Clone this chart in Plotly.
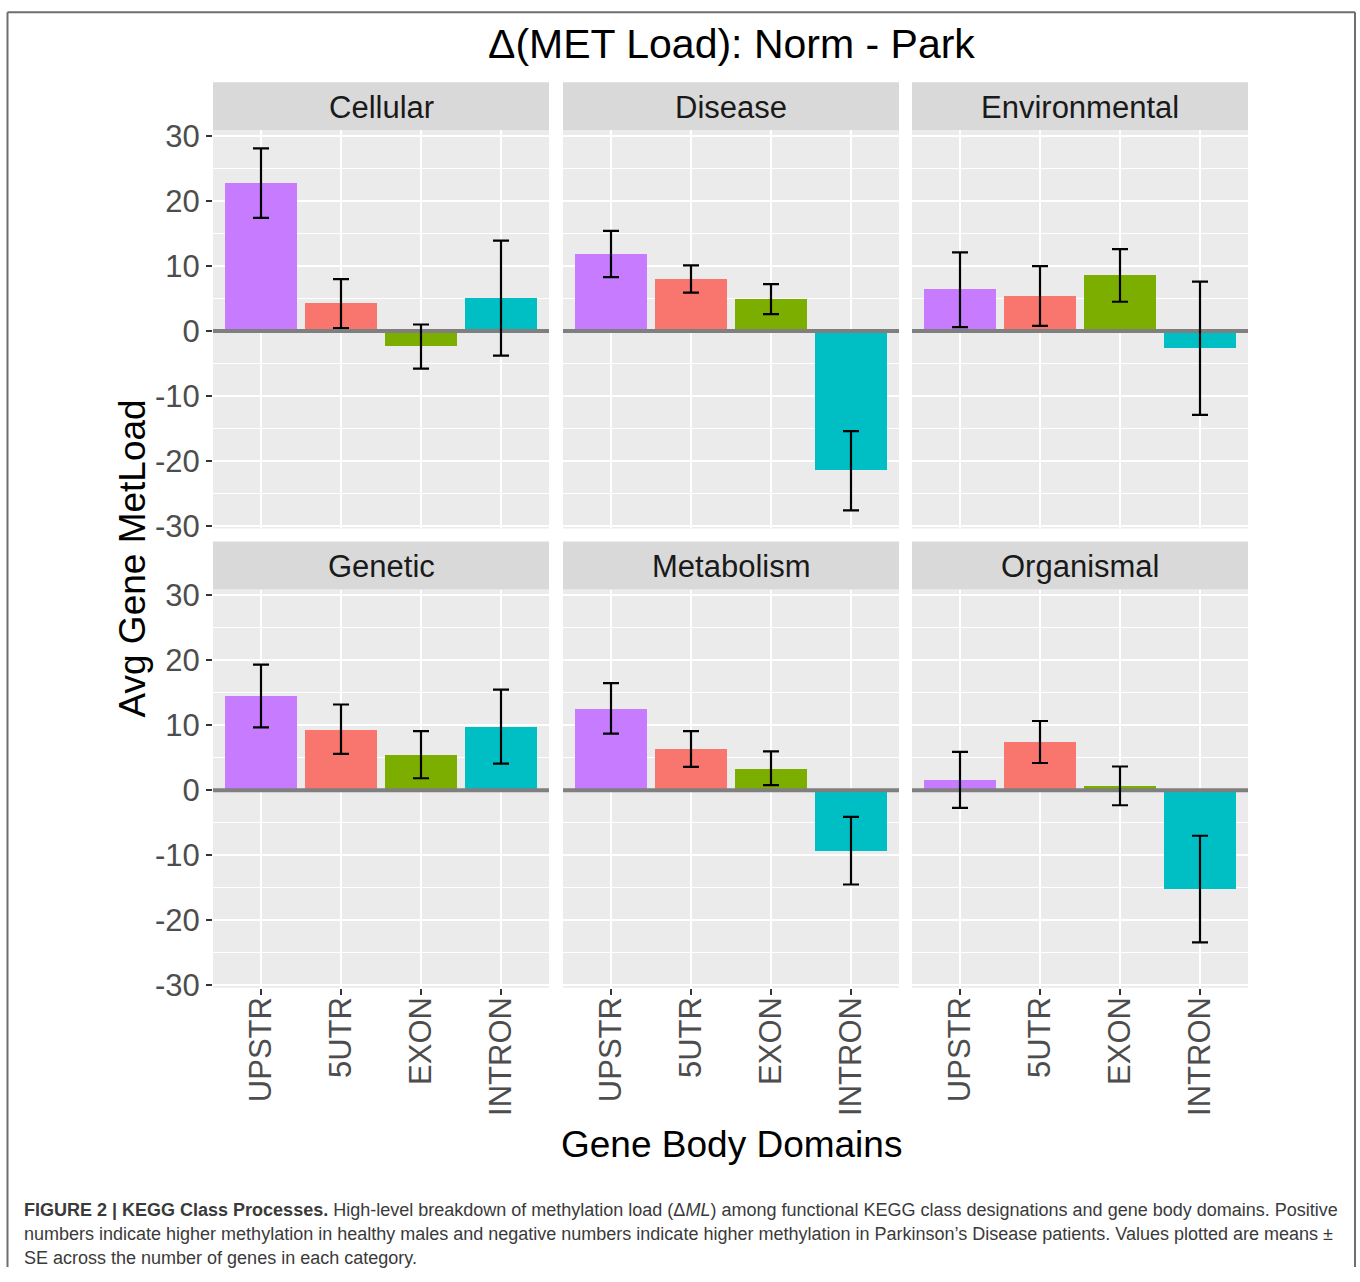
import plotly.graph_objects as go

# ---------------- data ----------------
domains = ["UPSTR", "5UTR", "EXON", "INTRON"]
kegg_classes = ["Cellular", "Disease", "Environmental", "Genetic", "Metabolism", "Organismal"]

mean_cellular = [22.75, 4.23, -2.4, 5.05]
mean_disease = [11.85, 8.0, 4.9, -21.5]
mean_environmental = [6.35, 5.4, 8.55, -2.65]
mean_genetic = [14.5, 9.4, 5.48, 9.8]
mean_metabolism = [12.6, 6.35, 3.4, -9.3]
mean_organismal = [1.6, 7.43, 0.68, -15.2]

se_cellular = [5.35, 3.77, 3.4, 8.85]
se_disease = [3.55, 2.1, 2.3, 6.1]
se_environmental = [5.75, 4.6, 4.05, 10.25]
se_genetic = [4.83, 3.8, 3.63, 5.7]
se_metabolism = [3.88, 2.75, 2.6, 5.2]
se_organismal = [4.3, 3.23, 2.98, 8.2]

y_ticks = [-30, -20, -10, 0, 10, 20, 30]
y_tick_labels = ["-30", "-20", "-10", "0", "10", "20", "30"]

means = [mean_cellular, mean_disease, mean_environmental,
         mean_genetic, mean_metabolism, mean_organismal]
ses = [se_cellular, se_disease, se_environmental,
       se_genetic, se_metabolism, se_organismal]

domain_colors = ["#C77CFF", "#F8766D", "#7CAE00", "#00BFC4"]

# ---------------- layout geometry (target pixels) ----------------
W, H = 1360, 1282
col_left = [213, 563, 912]
panel_w = 336
row_top = [130, 588]
panel_h = 397
strip_h = 48

# the captured picture places the page slightly offset / compressed vertically;
# convert target pixel rows into page rows accordingly
Y_OFF, Y_SCALE = 11.0, 0.977

def px(x):
    return x / W

def py(y):
    return 1 - ((y - Y_OFF) / Y_SCALE) / H

FONT = "Liberation Sans, Arial, Helvetica, sans-serif"

lo = min(m - s for mm, ss in zip(means, ses) for m, s in zip(mm, ss))
hi = max(m + s for mm, ss in zip(means, ses) for m, s in zip(mm, ss))
span = hi - lo
y_range = [lo - 0.05 * span, hi + 0.05 * span]
x_range = [-0.6, len(domains) - 0.4]
xs = list(range(len(domains)))

fig = go.Figure()
layout_axes = {}
shapes = []
annotations = []

for i, cls in enumerate(kegg_classes):
    r, c = divmod(i, 3)
    n = i + 1
    xa = "x" if n == 1 else f"x{n}"
    ya = "y" if n == 1 else f"y{n}"
    xkey = "xaxis" if n == 1 else f"xaxis{n}"
    ykey = "yaxis" if n == 1 else f"yaxis{n}"

    fig.add_trace(go.Bar(
        x=xs, y=means[i], marker=dict(color=domain_colors, line=dict(width=0)),
        width=0.9, xaxis=xa, yaxis=ya, showlegend=False, hoverinfo="skip"))
    fig.add_trace(go.Scatter(
        x=[x_range[0] - 1, x_range[1] + 1], y=[0, 0], mode="lines",
        line=dict(color="#7F7F7F", width=4), xaxis=xa, yaxis=ya,
        showlegend=False, hoverinfo="skip"))
    fig.add_trace(go.Scatter(
        x=xs, y=means[i], mode="markers", marker=dict(size=1, opacity=0),
        error_y=dict(type="data", array=ses[i], visible=True,
                     color="black", thickness=2.2, width=8),
        xaxis=xa, yaxis=ya, showlegend=False, hoverinfo="skip"))

    x0 = col_left[c]
    y0 = row_top[r]
    bottom_row = (r == 1)
    left_col = (c == 0)

    layout_axes[xkey] = dict(
        domain=[px(x0), px(x0 + panel_w)], anchor=ya, range=x_range,
        tickmode="array", tickvals=xs, ticktext=domains,
        showgrid=True, gridcolor="white", gridwidth=2,
        zeroline=False, showline=False,
        ticks="outside" if bottom_row else "", ticklen=6, tickwidth=2,
        tickcolor="#333333", showticklabels=bottom_row, tickangle=-90,
        ticklabelstandoff=-10,
        tickfont=dict(family=FONT, size=31, color="#4D4D4D"),
        fixedrange=True)
    layout_axes[ykey] = dict(
        domain=[py(y0 + panel_h), py(y0)], anchor=xa, range=y_range,
        tickmode="array", tickvals=y_ticks, ticktext=y_tick_labels,
        showgrid=True, gridcolor="white", gridwidth=2,
        minor=dict(tickmode="array", tickvals=[-25, -15, -5, 5, 15, 25],
                   showgrid=True, gridcolor="white", gridwidth=1, ticks=""),
        zeroline=False, showline=False,
        ticks="outside" if left_col else "", ticklen=6, tickwidth=2,
        tickcolor="#333333", showticklabels=left_col,
        tickfont=dict(family=FONT, size=31, color="#4D4D4D"),
        fixedrange=True)

    shapes.append(dict(type="rect", xref="paper", yref="paper",
                       x0=px(x0), x1=px(x0 + panel_w),
                       y0=py(y0), y1=py(y0 - strip_h),
                       fillcolor="#D9D9D9", line=dict(width=0), layer="below"))
    annotations.append(dict(text=cls, xref="paper", yref="paper",
                            x=px(x0 + panel_w / 2), y=py(y0 - strip_h / 2 + 1),
                            xanchor="center", yanchor="middle", showarrow=False,
                            font=dict(family=FONT, size=31, color="#1A1A1A")))

fig.update_layout(**layout_axes)

annotations.append(dict(text="Δ(MET Load): Norm - Park", xref="paper", yref="paper",
                        x=px(731), y=py(44), xanchor="center", yanchor="middle",
                        showarrow=False, font=dict(family=FONT, size=41, color="black")))
annotations.append(dict(text="Gene Body Domains", xref="paper", yref="paper",
                        x=px(731), y=py(1141), xanchor="center", yanchor="middle",
                        showarrow=False, font=dict(family=FONT, size=37, color="black")))
annotations.append(dict(text="Avg Gene MetLoad", xref="paper", yref="paper",
                        x=px(133), y=py(557), xanchor="center", yanchor="middle",
                        textangle=-90, showarrow=False,
                        font=dict(family=FONT, size=37, color="black")))

cap_lines = [
    "<b>FIGURE 2 | KEGG Class Processes.</b> High-level breakdown of methylation load (Δ<i>ML</i>) "
    "among functional KEGG class designations and gene body domains. Positive",
    "numbers indicate higher methylation in healthy males and negative numbers indicate higher "
    "methylation in Parkinson’s Disease patients. Values plotted are means ±",
    "SE across the number of genes in each category.",
]
cap_y = [1207, 1231, 1255]
for line, yy in zip(cap_lines, cap_y):
    annotations.append(dict(text=line, xref="paper", yref="paper",
                            x=px(22), y=py(yy), xanchor="left", yanchor="middle",
                            showarrow=False,
                            font=dict(family=FONT, size=18, color="#3A3A3A")))

frame = dict(color="#6E6E6E", width=2)
top_edge = 1 - 1.2 / H
shapes.append(dict(type="line", xref="paper", yref="paper",
                   x0=px(7.5), x1=px(1355), y0=top_edge, y1=top_edge, line=frame))
shapes.append(dict(type="line", xref="paper", yref="paper",
                   x0=px(7.5), x1=px(7.5), y0=top_edge, y1=0, line=frame))
shapes.append(dict(type="line", xref="paper", yref="paper",
                   x0=px(1355), x1=px(1355), y0=top_edge, y1=0, line=frame))

fig.update_layout(
    width=W, height=H, margin=dict(l=0, r=0, t=0, b=0),
    paper_bgcolor="white", plot_bgcolor="#EBEBEB",
    shapes=shapes, annotations=annotations, bargap=0,
    showlegend=False,
)

fig.write_html("out.html", config={"displayModeBar": False})
